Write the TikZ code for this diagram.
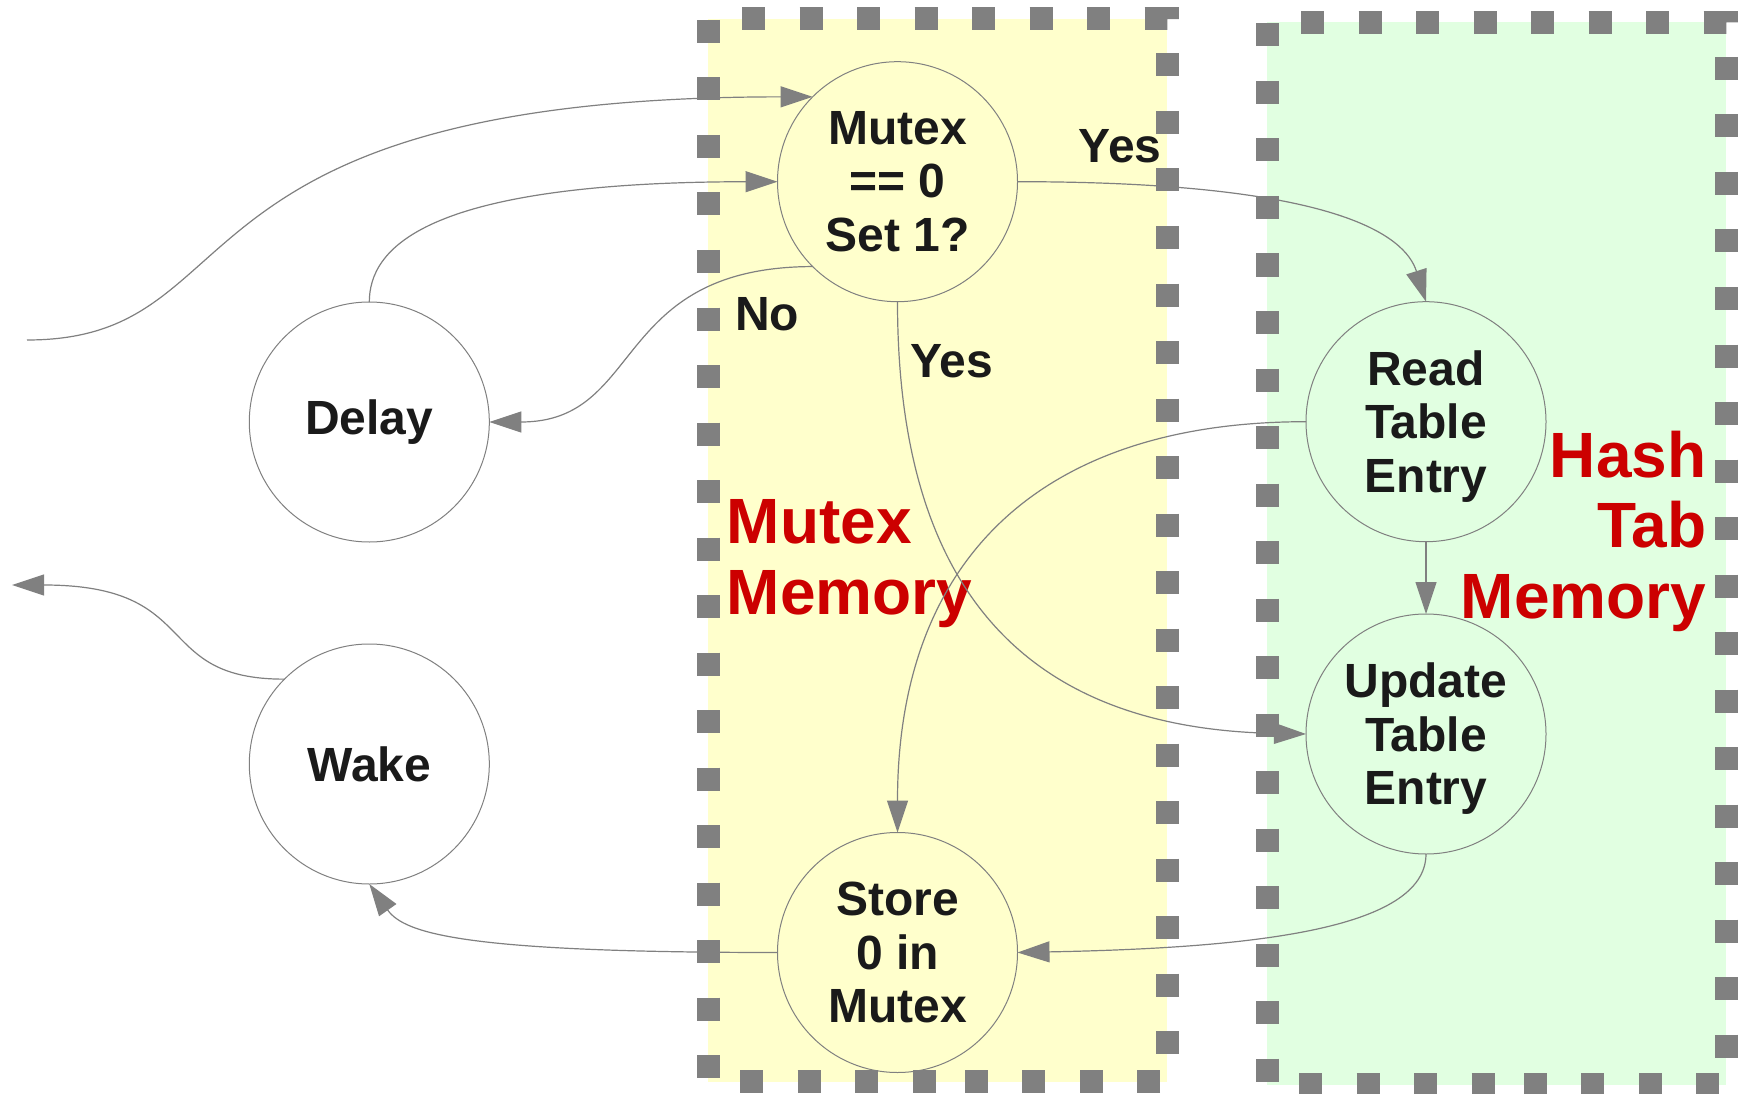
\documentclass[tikz,border=0pt]{standalone}
\usepackage{fontspec}
\setmainfont{Liberation Sans}
\usetikzlibrary{arrows.meta}

\definecolor{memyellow}{HTML}{FFFFCC}
\definecolor{memgreen}{HTML}{E1FFE1}
\definecolor{framegray}{HTML}{808080}
\definecolor{edgegray}{HTML}{808080}
\definecolor{labelred}{HTML}{CC0000}
\definecolor{ink}{HTML}{1A1A1A}

\tikzset{
  % dashed memory-region outline: left side + left half of the bottom,
  % then top, right side and right half of the bottom
  memframe/.pic={
    \draw[frameline, dash phase=56.5pt] (0,0) -- (0,1062) -- (241.5,1062);
    \draw[frameline, dash phase=24pt] (0,0) -- (459,0) -- (459,1062) -- (241.5,1062);
  },
}

\begin{document}
\begin{tikzpicture}[x=1pt, y=-1pt,
  state/.style={circle, draw=edgegray, line width=1pt, minimum size=240pt,
    inner sep=0pt, outer sep=0pt, align=center, text=ink,
    font=\fontsize{48}{53.5}\selectfont\bfseries},
  edge/.style={draw=edgegray, line width=1.2pt,
    -{Triangle[length=32pt,width=21pt]}},
  frameline/.style={draw=framegray, line width=23pt,
    dash pattern=on 23pt off 34.5pt},
  branch/.style={text=ink, inner sep=0pt, anchor=base west,
    font=\fontsize{48}{53.5}\selectfont\bfseries},
  region/.style={text=labelred, inner sep=0pt,
    font=\fontsize{64}{70.5}\selectfont\bfseries},
]
\useasboundingbox[fill=white] (0,0) rectangle (1746,1094);

% memory regions
\fill[memyellow] (708,19) rectangle (1167,1082);
\fill[memgreen] (1267,22.5) rectangle (1726,1085);

% region titles
\node[region, align=left, anchor=north west] (mutexmem) at (726.7,499.3) {Mutex\\Memory};
\node[region, align=right, anchor=north east] (hashmem) at (1706.5,430.7) {Hash\\Tab\\Memory};

% states
\node[state] (mutex)   at (897.5,181.7) {Mutex\\== 0\\Set 1?};
\node[state] (delay)   at (369.3,422)   {Delay};
\node[state] (wake)    at (369.3,764)   {Wake};
\node[state] (store)   at (897.5,952.5) {Store\\0 in\\Mutex};
\node[state] (readent) at (1426,421.7)  {Read\\Table\\Entr\smash{y}};
\node[state] (update)  at (1426,734)    {Update\\Table\\Entr\smash{y}};

% free ends of the entry and exit connectors
\coordinate (inlet)  at (27,340);
\coordinate (outlet) at (12,585);

% transitions
\draw[edge] (inlet) .. controls (260,340) and (150,97) .. (mutex.135);
\draw[edge] (delay.north) .. controls (369.5,250) and (420,182) .. (mutex.west);
\draw[edge] (mutex.225) .. controls (610,267) and (645,422) .. (delay.east);
\draw[edge] (mutex.east) .. controls (1335,181.7) and (1405,235) .. (readent.north);
\draw[edge] (mutex.south) .. controls (897.5,560) and (1000,728) .. (update.west);
\draw[edge] (readent.west) .. controls (1040,421.7) and (897.5,560) .. (store.north);
\draw[edge] (readent.south) -- (update.north);
\draw[edge] (update.south) .. controls (1425.7,930) and (1250,948) .. (store.east);
\draw[edge] (store.west) .. controls (466,952.5) and (404.6,934) .. (wake.south);
\draw[edge] (wake.135) .. controls (150,679.3) and (205,585) .. (outlet);

% region outlines
\pic at (708.5,19) {memframe};
\pic at (1267.5,22.5) {memframe};

% branch labels
\node[branch] (yesread) at (1078.5,162.3) {Yes};
\node[branch] (nodelay) at (734.8,330) {No};
\node[branch] (yesupd)  at (910,377.3) {Yes};
\end{tikzpicture}
\end{document}
